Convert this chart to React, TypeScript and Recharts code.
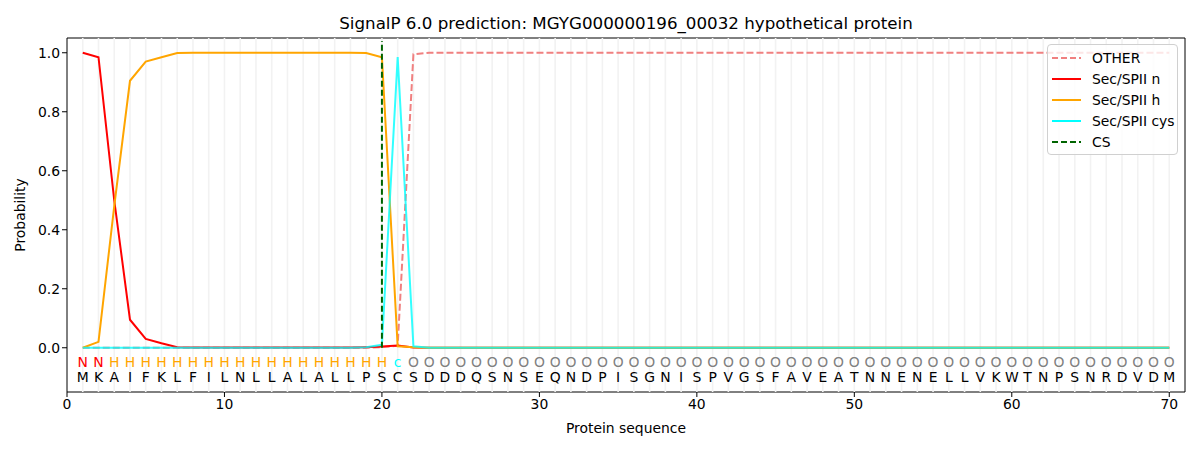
import React from 'react';
import { LineChart, Line, XAxis, YAxis, ReferenceLine, ReferenceArea } from 'recharts';

const sequence = 'MKAIFKLFILNLLALALLPSCSDDDQSNSEQNDPISGNISPVGSFAVEATNNENELLVKWTNPSNRDVDM'.split('');
const regionLabels = [
  'N', 'N',
  'H', 'H', 'H', 'H', 'H', 'H', 'H', 'H', 'H', 'H', 'H', 'H', 'H', 'H', 'H', 'H', 'H', 'H',
  'c',
  ...Array(49).fill('O'),
];
const otherProb = [
  0, 0, 0, 0, 0, 0, 0, 0, 0, 0, 0, 0, 0, 0, 0, 0, 0, 0, 0, 0.002,
  0.007, 0.995, ...Array(48).fill(1.0),
];
const nProb = [
  1.0, 0.985, 0.5, 0.095, 0.03, 0.015, 0.002, 0.001, 0.001, 0.001,
  0.001, 0.001, 0.001, 0.001, 0.001, 0.001, 0.001, 0.001, 0.002, 0.004,
  0.008, 0.001, ...Array(48).fill(0),
];
const hProb = [
  0, 0.02, 0.48, 0.905, 0.97, 0.985, 0.999, 1.0, 1.0, 1.0,
  1.0, 1.0, 1.0, 1.0, 1.0, 1.0, 1.0, 1.0, 0.999, 0.985,
  0.005, 0.002, ...Array(48).fill(0),
];
const cysProb = [
  0, 0, 0, 0, 0, 0, 0, 0, 0, 0, 0, 0, 0, 0, 0, 0, 0, 0, 0.002, 0.01,
  0.985, 0.005, ...Array(48).fill(0),
];
const xTicks = [0, 10, 20, 30, 40, 50, 60, 70];
const yTicks = [0, 0.2, 0.4, 0.6, 0.8, 1.0];
const csPosition = 20;

const labelColors: Record<string, string> = { N: '#ff0000', H: '#ffa500', c: '#00ffff', O: '#808080' };

const data = sequence.map((aa, i) => ({
  pos: i + 1,
  aa,
  lab: regionLabels[i],
  other: otherProb[i],
  n: nProb[i],
  h: hProb[i],
  cys: cysProb[i],
  labY: -0.047,
  aaY: -0.098,
}));

const FONT = 'DejaVu Sans, sans-serif';

const legendItems = [
  { name: 'OTHER', color: '#f08080', dash: '6 3' },
  { name: 'Sec/SPII n', color: '#ff0000', dash: '' },
  { name: 'Sec/SPII h', color: '#ffa500', dash: '' },
  { name: 'Sec/SPII cys', color: '#00ffff', dash: '' },
  { name: 'CS', color: '#006400', dash: '6 3' },
];

const LegendBox = () => (
  <div
    style={{
      position: 'absolute',
      left: 1047,
      top: 44,
      border: '1px solid #d0d0d0',
      borderRadius: 4,
      background: 'rgba(255,255,255,0.8)',
      padding: '2px 6px 2px 4px',
      fontFamily: FONT,
      fontSize: 13.9,
      width: 131,
      boxSizing: 'border-box',
    }}
  >
    {legendItems.map((it) => (
      <div key={it.name} style={{ display: 'flex', alignItems: 'center', height: 21 }}>
        <svg width={40} height={10} style={{ flex: 'none' }}>
          <line x1={0} y1={5} x2={29} y2={5} stroke={it.color} strokeWidth={2} strokeDasharray={it.dash} />
        </svg>
        <span style={{ whiteSpace: 'nowrap' }}>{it.name}</span>
      </div>
    ))}
  </div>
);

const makeTextDot = (field: 'lab' | 'aa') => (props: any) => {
  const { cx, cy, payload, index } = props;
  const txt = payload[field];
  const fill = field === 'aa' ? '#000000' : labelColors[txt] || '#000';
  return (
    <text
      key={`${field}-${index}`}
      x={cx}
      y={cy}
      textAnchor="middle"
      dominantBaseline="central"
      fontFamily={FONT}
      fontSize={13.9}
      fill={fill}
    >
      {txt}
    </text>
  );
};

export default function App() {
  return (
    <div style={{ position: 'absolute', left: 0, top: 0, width: 1200, height: 450, background: '#fff' }}>
      <div
        style={{
          position: 'absolute',
          left: 67,
          width: 1118,
          top: 13,
          textAlign: 'center',
          fontFamily: FONT,
          fontSize: 16.7,
          lineHeight: '20px',
        }}
      >
        SignalP 6.0 prediction: MGYG000000196_00032 hypothetical protein
      </div>
      <LineChart width={1200} height={450} data={data} margin={{ top: 38, right: 15, left: 0, bottom: 0 }}>
        <XAxis
          dataKey="pos"
          type="number"
          domain={[0, 71]}
          ticks={xTicks}
          allowDataOverflow
          height={58}
          tickSize={5}
          axisLine={false}
          tickLine={{ stroke: '#000' }}
          tick={{ fill: '#000', fontFamily: FONT, fontSize: 13.9 }}
          label={{ value: 'Protein sequence', position: 'insideBottom', offset: 17, fill: '#000', fontFamily: FONT, fontSize: 13.9 }}
        />
        <YAxis
          type="number"
          domain={[-0.15, 1.05]}
          ticks={yTicks}
          allowDataOverflow
          width={67}
          tickSize={5}
          axisLine={false}
          tickLine={{ stroke: '#000' }}
          tickFormatter={(v: number) => v.toFixed(1)}
          tick={{ fill: '#000', fontFamily: FONT, fontSize: 13.9 }}
          label={{ value: 'Probability', angle: -90, position: 'insideLeft', offset: 20, fill: '#000', fontFamily: FONT, fontSize: 13.9, style: { textAnchor: 'middle' } }}
        />
        {data.map((d) => (
          <ReferenceLine key={`g${d.pos}`} x={d.pos} stroke="#f2f2f2" strokeWidth={1.6} />
        ))}
        <ReferenceArea x1={0} x2={71} y1={-0.15} y2={1.05} fill="none" stroke="#000" strokeWidth={1} ifOverflow="visible" />
        <Line dataKey="other" stroke="#f08080" strokeWidth={2} strokeDasharray="7 3" dot={false} isAnimationActive={false} />
        <Line dataKey="n" stroke="#ff0000" strokeWidth={2} dot={false} isAnimationActive={false} />
        <Line dataKey="h" stroke="#ffa500" strokeWidth={2} dot={false} isAnimationActive={false} />
        <Line dataKey="cys" stroke="#00ffff" strokeOpacity={0.8} strokeWidth={2} dot={false} isAnimationActive={false} />
        <ReferenceLine
          segment={[{ x: csPosition, y: 0 }, { x: csPosition, y: 1.04 }]}
          stroke="#006400"
          strokeWidth={2}
          strokeDasharray="6 3"
        />
        <Line dataKey="labY" stroke="none" dot={makeTextDot('lab')} isAnimationActive={false} legendType="none" />
        <Line dataKey="aaY" stroke="none" dot={makeTextDot('aa')} isAnimationActive={false} legendType="none" />
      </LineChart>
      <LegendBox />
    </div>
  );
}
